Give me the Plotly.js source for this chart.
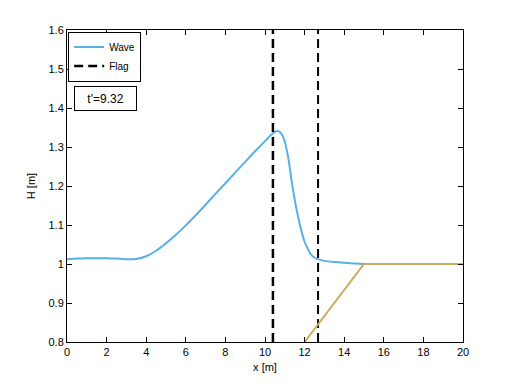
<!DOCTYPE html>
<html><head><meta charset="utf-8">
<script src="https://cdn.plot.ly/plotly-3.0.1.min.js"></script>
<style>body{margin:0;background:#fff}#c{width:512px;height:384px}</style>
</head><body><div id="c"></div>
<script>
const waveX = [0, 0.5, 1, 1.5, 2, 2.5, 3, 3.5, 4, 4.5, 5, 5.5, 6, 6.5, 7, 7.5, 8, 8.5, 9, 9.5, 10, 10.2, 10.4, 10.5, 10.6, 10.7, 10.8, 10.9, 11.0, 11.1, 11.2, 11.36, 11.5, 11.6, 11.75, 11.87, 12.0, 12.15, 12.27, 12.45, 12.63, 13.0, 13.5, 14.0, 14.3, 15.0];
const waveY = [1.012, 1.014, 1.015, 1.015, 1.015, 1.014, 1.012, 1.013, 1.02, 1.034, 1.053, 1.075, 1.099, 1.125, 1.152, 1.18, 1.207, 1.235, 1.262, 1.289, 1.315, 1.326, 1.335, 1.339, 1.341, 1.340, 1.336, 1.328, 1.314, 1.292, 1.265, 1.208, 1.165, 1.138, 1.103, 1.079, 1.057, 1.040, 1.028, 1.018, 1.013, 1.008, 1.005, 1.003, 1.002, 1.0];
const bedX = [12.0, 15.0, 20.0];
const bedY = [0.8, 1.0, 1.0];
const flagX = [10.4, 12.68];
const yRange = [0.8, 1.6];
const xRange = [0, 20];
const annText = "t'=9.32";

const font = {family: 'Liberation Sans, Arial, sans-serif', size: 11, color: '#000'};
const traces = [
  {x: waveX, y: waveY, mode: 'lines', name: 'Wave', line: {color: '#5aafe6', width: 2, shape: 'spline', smoothing: 0.6}},
  {x: [flagX[0], flagX[0]], y: yRange, mode: 'lines', name: 'Flag', line: {color: '#000', width: 2.5, dash: '9px,5px'}},
  {x: [flagX[1], flagX[1]], y: yRange, mode: 'lines', name: 'Flag', showlegend: false, line: {color: '#000', width: 2, dash: '9px,5px'}},
  {x: bedX, y: bedY, mode: 'lines', name: 'bed', showlegend: false, line: {color: '#c9aa62', width: 2}}
];
const axisCommon = {showline: true, linecolor: '#000', linewidth: 1, mirror: 'ticks', ticks: 'inside', ticklen: 5, tickcolor: '#000', showgrid: false, zeroline: false, tickfont: font};
const layout = {
  width: 512, height: 384,
  margin: {l: 67, r: 49, t: 30, b: 42},
  paper_bgcolor: '#fff', plot_bgcolor: '#fff',
  font: font,
  showlegend: true,
  legend: {x: 0.003, y: 0.995, xanchor: 'left', yanchor: 'top', bgcolor: '#fff', bordercolor: '#000', borderwidth: 1, font: {family: font.family, size: 10, color: '#000'}, tracegroupgap: 0, itemwidth: 30},
  xaxis: Object.assign({}, axisCommon, {range: xRange, dtick: 2, title: {text: 'x [m]', font: font, standoff: 6}}),
  yaxis: Object.assign({}, axisCommon, {range: yRange, dtick: 0.1, title: {text: 'H [m]', font: font, standoff: 10}}),
  annotations: [{xref: 'paper', yref: 'paper', x: 0.018, y: 0.822, xanchor: 'left', yanchor: 'top', text: annText, showarrow: false, bordercolor: '#000', borderwidth: 1, borderpad: 3, bgcolor: '#fff', font: {family: font.family, size: 12, color: '#000'}, width: 55, height: 17, align: 'center'}]
};
Plotly.newPlot('c', traces, layout, {staticPlot: true});
</script></body></html>
